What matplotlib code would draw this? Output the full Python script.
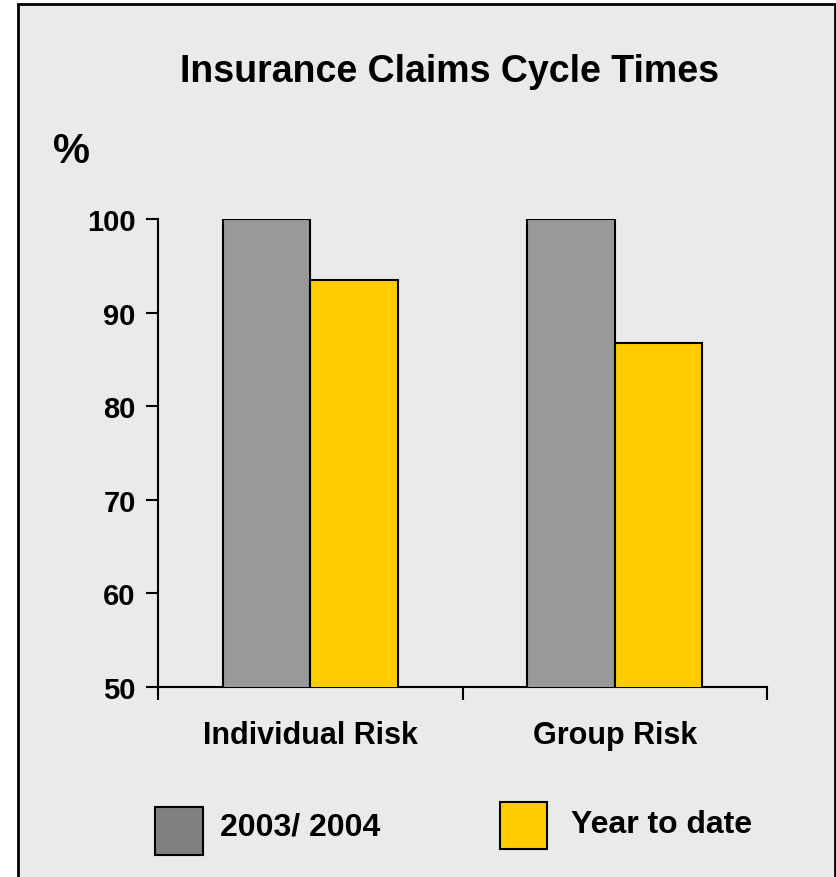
import matplotlib
matplotlib.use("Agg")
import matplotlib.pyplot as plt
from matplotlib.patches import Rectangle
import numpy as np

categories = ["Individual Risk", "Group Risk"]
series_names = ["2003/ 2004", "Year to date"]
values_2003 = [100, 100]
values_ytd = [93.5, 86.8]
yticks = [50, 60, 70, 80, 90, 100]

bar_colors = ["#999999", "#FFCC00"]
legend_colors = ["#808080", "#FFCC00"]
bg = "#EAEAEA"

plt.rcParams['font.family'] = ['Liberation Sans', 'DejaVu Sans']
plt.rcParams['font.weight'] = 'bold'

W, H = 836, 878
fig = plt.figure(figsize=(W/100, H/100), dpi=100, facecolor="white")

# background panel with border
fig.add_artist(Rectangle((18/W, -0.01), (835-18)/W, 1.01 - 5/H,
                         transform=fig.transFigure, facecolor=bg,
                         edgecolor="black", linewidth=2, zorder=-10))

ax = fig.add_axes([158/W, 1-688/H, (767-158)/W, (688-220)/H])
ax.set_facecolor("none")

x = np.arange(len(categories))
bw = 0.287
ax.bar(x - bw/2, values_2003, bw, color=bar_colors[0], edgecolor="black", linewidth=1.5, zorder=3)
ax.bar(x + bw/2, values_ytd, bw, color=bar_colors[1], edgecolor="black", linewidth=1.5, zorder=3)

ax.set_xlim(-0.5, 1.5)
ax.set_ylim(50, 100)
ax.set_yticks(yticks)
ax.set_yticklabels([str(v) for v in yticks], fontsize=21, fontweight='bold')
ax.set_xticks([-0.5, 0.5, 1.5])
ax.set_xticklabels([])
ax.set_xticks(x, minor=True)
ax.set_xticklabels(categories, minor=True, fontsize=22, fontweight='bold')
ax.tick_params(axis='x', which='minor', length=0, pad=24)
ax.tick_params(axis='x', which='major', direction='out', length=9, width=1.5)
ax.tick_params(axis='y', direction='out', length=9, width=1.5, pad=7)
for s in ["top", "right"]:
    ax.spines[s].set_visible(False)
for s in ["left", "bottom"]:
    ax.spines[s].set_linewidth(1.5)

fig.text(450/W, 1-72/H, "Insurance Claims Cycle Times", ha="center", va="center",
         fontsize=27, fontweight="bold")
fig.text(72/W, 1-152/H, "%", ha="center", va="center", fontsize=30, fontweight="bold")

# legend
fig.add_artist(Rectangle((155/W, 1-856/H), 48/W, 48/H, transform=fig.transFigure,
                         facecolor=legend_colors[0], edgecolor="black", linewidth=1.5))
fig.text(220/W, 1-828/H, series_names[0], ha="left", va="center", fontsize=23, fontweight="bold")
fig.add_artist(Rectangle((500/W, 1-850/H), 47/W, 47/H, transform=fig.transFigure,
                         facecolor=legend_colors[1], edgecolor="black", linewidth=1.5))
fig.text(571/W, 1-825/H, series_names[1], ha="left", va="center", fontsize=23, fontweight="bold")

fig.savefig("out.png", dpi=100, facecolor="white")
